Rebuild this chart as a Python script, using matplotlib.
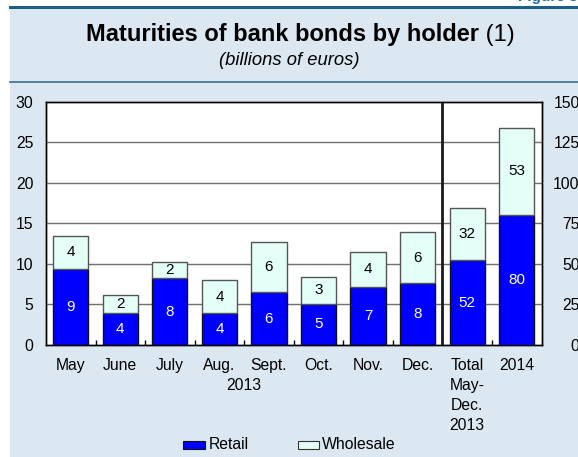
import matplotlib
matplotlib.use("Agg")
import matplotlib.pyplot as plt
from matplotlib.patches import Rectangle
from matplotlib.lines import Line2D

plt.rcParams['font.family'] = ['Liberation Sans', 'DejaVu Sans']

# ---- data (billions of euros) ----
categories = ["May", "June", "July", "Aug.", "Sept.", "Oct.", "Nov.", "Dec.",
              "Total\nMay-\nDec.\n2013", "2014"]
retail = [9.4, 4.0, 8.2, 3.9, 6.5, 5.1, 7.2, 7.6, 52.1, 80.3]
wholesale = [4.0, 2.1, 2.0, 4.1, 6.2, 3.3, 4.3, 6.3, 32.3, 53.3]
series_names = ["Retail", "Wholesale"]
left_ticks = [0, 5, 10, 15, 20, 25, 30]
right_ticks = [0, 25, 50, 75, 100, 125, 150]
n_monthly = 8  # first 8 bars use the left scale, the rest the right scale

W, H = 578, 457
fig = plt.figure(figsize=(W / 100, H / 100), dpi=100)
fig.patch.set_facecolor("white")

BG = "#dce8f1"
RETAIL_C = "#0000ff"
WHOLE_C = "#e4fff8"


def fx(px):
    return px / W


def fy(py):
    return 1 - py / H


# panel background and rules
fig.patches.append(Rectangle((fx(10), fy(457)), fx(578) - fx(10), fy(8) - fy(457),
                             transform=fig.transFigure, facecolor=BG,
                             edgecolor="none", zorder=-10))
fig.lines.append(Line2D([fx(10), 1], [fy(7), fy(7)], transform=fig.transFigure,
                        color="#1d5f82", lw=2.2, zorder=-9))
fig.lines.append(Line2D([fx(10), 1], [fy(81.5), fy(81.5)], transform=fig.transFigure,
                        color="#3b6e8e", lw=1.2, zorder=-9))
fig.text(fx(578), fy(1.5), "Figure 8", ha="right", va="baseline",
         fontsize=11, fontweight="bold", color="#1d6fa0")

# title
t1 = fig.text(0, 0, "Maturities of bank bonds by holder", fontsize=17,
              fontweight="bold", ha="left", va="baseline")
t2 = fig.text(0, 0, " (1)", fontsize=17, ha="left", va="baseline")
fig.canvas.draw()
r = fig.canvas.get_renderer()
w1 = t1.get_window_extent(r).width
w2 = t2.get_window_extent(r).width
x0 = (W / 2 + 11 - (w1 + w2) / 2)
t1.set_position((fx(x0), fy(40.5)))
t2.set_position((fx(x0 + w1), fy(40.5)))
fig.text(fx(289), fy(65), "(billions of euros)", fontsize=13.2, style="italic",
         ha="center", va="baseline")

# axes
left, right, top, bottom = 46, 541.5, 101.5, 345
ax = fig.add_axes([fx(left), fy(bottom), fx(right) - fx(left), fy(top) - fy(bottom)])
ax.set_facecolor("white")
ax2 = ax.twinx()

x = list(range(len(categories)))
bw = 0.71
ax.set_xlim(-0.5, len(categories) - 0.5)
ax.set_ylim(0, 30)
ax2.set_ylim(0, 150)

for i in x:
    a = ax if i < n_monthly else ax2
    a.bar(i, retail[i], bw, color=RETAIL_C, edgecolor="#111111", linewidth=1.0, zorder=3)
    a.bar(i, wholesale[i], bw, bottom=retail[i], color=WHOLE_C,
          edgecolor="#555555", linewidth=1.0, zorder=3)
    a.text(i, retail[i] / 2, f"{retail[i]:.0f}", ha="center", va="center",
           color="white", fontsize=11, zorder=4)
    a.text(i, retail[i] + wholesale[i] / 2, f"{wholesale[i]:.0f}", ha="center",
           va="center", color="black", fontsize=11, zorder=4)

# grid and separator
for v in left_ticks[1:-1]:
    ax.axhline(v, color="#707070", lw=1.0, zorder=1)
ax.axvline(n_monthly - 0.5, color="#1a1a1a", lw=2.0, zorder=5)

for a in (ax, ax2):
    for s in a.spines.values():
        s.set_color("black")
        s.set_linewidth(1.0)

ax.set_yticks(left_ticks)
ax.set_yticklabels([str(v) for v in left_ticks])
ax.tick_params(axis="y", length=0, pad=9, labelsize=11.3)

ax2.set_yticks(right_ticks)
ax2.set_yticklabels([str(v) for v in right_ticks])
ax2.tick_params(axis="y", length=0, pad=27.5, labelsize=11.3)
for t in ax2.get_yticklabels():
    t.set_horizontalalignment("right")

ax.set_xticks(x)
ax.set_xticklabels(categories, linespacing=1.42, va="top")
ax.set_xticks([i + 0.5 for i in x[:-1]], minor=True)
ax.tick_params(axis="x", which="major", length=0, pad=9.5, labelsize=11.3)
ax.tick_params(axis="x", which="minor", length=3.5, direction="in", width=1)
ax.text((3 + 4) / 2, -0.135, "2013", transform=ax.get_xaxis_transform(),
        ha="center", va="top", fontsize=11.3)

# legend
fig.patches.append(Rectangle((fx(183), fy(449)), fx(205) - fx(183), fy(440.5) - fy(449),
                             transform=fig.transFigure, facecolor=RETAIL_C,
                             edgecolor="#111111", lw=0.8, zorder=3))
fig.text(fx(209), fy(444.5), series_names[0], fontsize=11.3, ha="left", va="center")
fig.patches.append(Rectangle((fx(298), fy(449)), fx(319) - fx(298), fy(440.5) - fy(449),
                             transform=fig.transFigure, facecolor=WHOLE_C,
                             edgecolor="#333333", lw=0.8, zorder=3))
fig.text(fx(322), fy(444.5), series_names[1], fontsize=11.3, ha="left", va="center")

fig.savefig("out.png", dpi=100, facecolor=fig.get_facecolor())
